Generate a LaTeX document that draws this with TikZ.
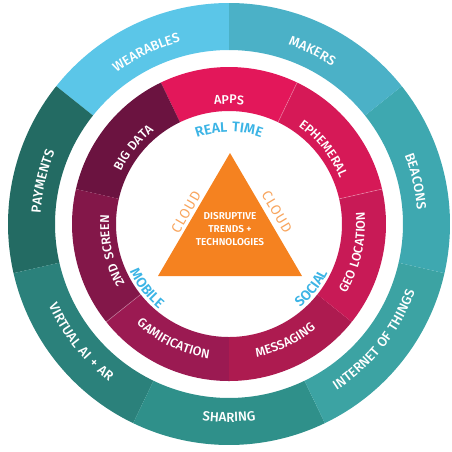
\documentclass[tikz,border=0pt]{standalone}
\usepackage{fontspec}
\setmainfont{Fira Sans}[BoldFont={Fira Sans SemiBold}]
\newfontfamily\ringfont{Fira Sans}[BoldFont={Fira Sans Medium},LetterSpace=8]
\newfontfamily\keyfont{Fira Sans}[BoldFont={Fira Sans SemiBold},LetterSpace=6]
\usetikzlibrary{decorations.text}

\definecolor{wearc}{HTML}{5BC6E8}
\definecolor{makerc}{HTML}{4BB1C7}
\definecolor{beaconc}{HTML}{3EA8B0}
\definecolor{iotc}{HTML}{3CA3A3}
\definecolor{sharec}{HTML}{2F908A}
\definecolor{virtc}{HTML}{2B817B}
\definecolor{payc}{HTML}{236B63}
\definecolor{appc}{HTML}{E3175A}
\definecolor{ephc}{HTML}{D61957}
\definecolor{geoc}{HTML}{C81A56}
\definecolor{msgc}{HTML}{AD1B50}
\definecolor{gamec}{HTML}{9B1A52}
\definecolor{scrc}{HTML}{831749}
\definecolor{bigc}{HTML}{6B1340}
\definecolor{trifill}{HTML}{F58220}
\definecolor{cloudc}{HTML}{F8A55E}
\definecolor{keyblue}{HTML}{3CB4E5}

\tikzset{
  outlbl/.style={decorate, opacity=.8, decoration={text along path, text align=center, text color=white,
      text={|\ringfont\bfseries\fontsize{10}{10}\selectfont|#1}}},
  inlbl/.style={decorate, opacity=.72, decoration={text along path, text align=center, text color=white,
      text={|\ringfont\bfseries\fontsize{9.5}{10}\selectfont|#1}}},
  keylbl/.style={decorate, decoration={text along path, text align=center, text color=keyblue,
      text={|\keyfont\bfseries\fontsize{10.5}{10}\selectfont|#1}}},
  segline/.style={white, opacity=.3, line width=.5},
  core/.style={text=white, font=\bfseries\fontsize{7.5}{9.75}\selectfont, align=center, inner sep=0pt},
  cloudlbl/.style={text=cloudc, font=\keyfont\fontsize{10.5}{10}\selectfont, inner sep=0pt}
}

\begin{document}
\begin{tikzpicture}[x=0.75pt,y=0.75pt]
\useasboundingbox (-229,-227) rectangle (223,224);

% Outer ring
\fill[wearc] (90:221) arc[start angle=90, end angle=141.43, radius=221] -- (141.43:174) arc[start angle=141.43, end angle=90, radius=174] -- cycle;
\fill[payc] (141.43:221) arc[start angle=141.43, end angle=192.86, radius=221] -- (192.86:174) arc[start angle=192.86, end angle=141.43, radius=174] -- cycle;
\fill[virtc] (192.86:221) arc[start angle=192.86, end angle=244.29, radius=221] -- (244.29:174) arc[start angle=244.29, end angle=192.86, radius=174] -- cycle;
\fill[sharec] (244.29:221) arc[start angle=244.29, end angle=295.71, radius=221] -- (295.71:174) arc[start angle=295.71, end angle=244.29, radius=174] -- cycle;
\fill[iotc] (295.71:221) arc[start angle=295.71, end angle=347.14, radius=221] -- (347.14:174) arc[start angle=347.14, end angle=295.71, radius=174] -- cycle;
\fill[beaconc] (-12.86:221) arc[start angle=-12.86, end angle=38.57, radius=221] -- (38.57:174) arc[start angle=38.57, end angle=-12.86, radius=174] -- cycle;
\fill[makerc] (38.57:221) arc[start angle=38.57, end angle=90, radius=221] -- (90:174) arc[start angle=90, end angle=38.57, radius=174] -- cycle;

% Inner ring
\fill[appc] (64.29:157) arc[start angle=64.29, end angle=115.71, radius=157] -- (115.71:113) arc[start angle=115.71, end angle=64.29, radius=113] -- cycle;
\fill[bigc] (115.71:157) arc[start angle=115.71, end angle=167.14, radius=157] -- (167.14:113) arc[start angle=167.14, end angle=115.71, radius=113] -- cycle;
\fill[scrc] (167.14:157) arc[start angle=167.14, end angle=218.57, radius=157] -- (218.57:113) arc[start angle=218.57, end angle=167.14, radius=113] -- cycle;
\fill[gamec] (218.57:157) arc[start angle=218.57, end angle=270, radius=157] -- (270:113) arc[start angle=270, end angle=218.57, radius=113] -- cycle;
\fill[msgc] (270:157) arc[start angle=270, end angle=321.43, radius=157] -- (321.43:113) arc[start angle=321.43, end angle=270, radius=113] -- cycle;
\fill[geoc] (-38.57:157) arc[start angle=-38.57, end angle=12.86, radius=157] -- (12.86:113) arc[start angle=12.86, end angle=-38.57, radius=113] -- cycle;
\fill[ephc] (12.86:157) arc[start angle=12.86, end angle=64.29, radius=157] -- (64.29:113) arc[start angle=64.29, end angle=12.86, radius=113] -- cycle;
\draw[segline] (64.29:113) -- (64.29:157);
\draw[segline] (12.86:113) -- (12.86:157);
\draw[segline] (218.57:113) -- (218.57:157);

% Outer ring labels
\path[outlbl={WEARABLES}] (140.71:188.5) arc[start angle=140.71, end angle=90.71, radius=188.5];
\path[outlbl={MAKERS}] (89.29:188.5) arc[start angle=89.29, end angle=39.29, radius=188.5];
\path[outlbl={BEACONS}] (37.86:188.5) arc[start angle=37.86, end angle=-12.14, radius=188.5];
\path[outlbl={PAYMENTS}] (192.14:188.5) arc[start angle=192.14, end angle=142.14, radius=188.5];
\path[outlbl={INTERNET OF THINGS}] (-63.57:198) arc[start angle=-63.57, end angle=-13.57, radius=198];
\path[outlbl={SHARING}] (-115:198) arc[start angle=-115, end angle=-65, radius=198];
\path[outlbl={VIRTUAL AI + AR}] (-166.43:198) arc[start angle=-166.43, end angle=-116.43, radius=198];

% Inner ring labels
\path[inlbl={APPS}] (115:120) arc[start angle=115, end angle=65, radius=120];
\path[inlbl={EPHEMERAL}] (63.57:120) arc[start angle=63.57, end angle=13.57, radius=120];
\path[inlbl={BIG DATA}] (166.43:120) arc[start angle=166.43, end angle=116.43, radius=120];
\path[inlbl={2ND SCREEN}] (217.86:120) arc[start angle=217.86, end angle=167.86, radius=120];
\path[inlbl={GEO LOCATION}] (-37.86:136) arc[start angle=-37.86, end angle=12.14, radius=136];
\path[inlbl={MESSAGING}] (-89.29:136) arc[start angle=-89.29, end angle=-39.29, radius=136];
\path[inlbl={GAMIFICATION}] (-140.71:136) arc[start angle=-140.71, end angle=-90.71, radius=136];

% Keys round the triangle
\path[keylbl={REAL TIME}] (120:92) arc[start angle=120, end angle=60, radius=92];
\path[keylbl={SOCIAL}] (-63:110) arc[start angle=-63, end angle=-13, radius=110];
\path[keylbl={MOBILE}] (-167:110) arc[start angle=-167, end angle=-117, radius=110];

% Triangle
\coordinate (apex) at (1,71);
\coordinate (left) at (-71,-52);
\coordinate (right) at (73,-52);
\fill[trifill] (apex) -- (left) -- (right) -- cycle;
\node[core] (core) at (1,-5) {DISRUPTIVE\\TRENDS +\\TECHNOLOGIES};
\node[cloudlbl, rotate=60] (cloudL) at (-43,12) {CLOUD};
\node[cloudlbl, rotate=-59] (cloudR) at (48,12) {CLOUD};
\end{tikzpicture}
\end{document}
